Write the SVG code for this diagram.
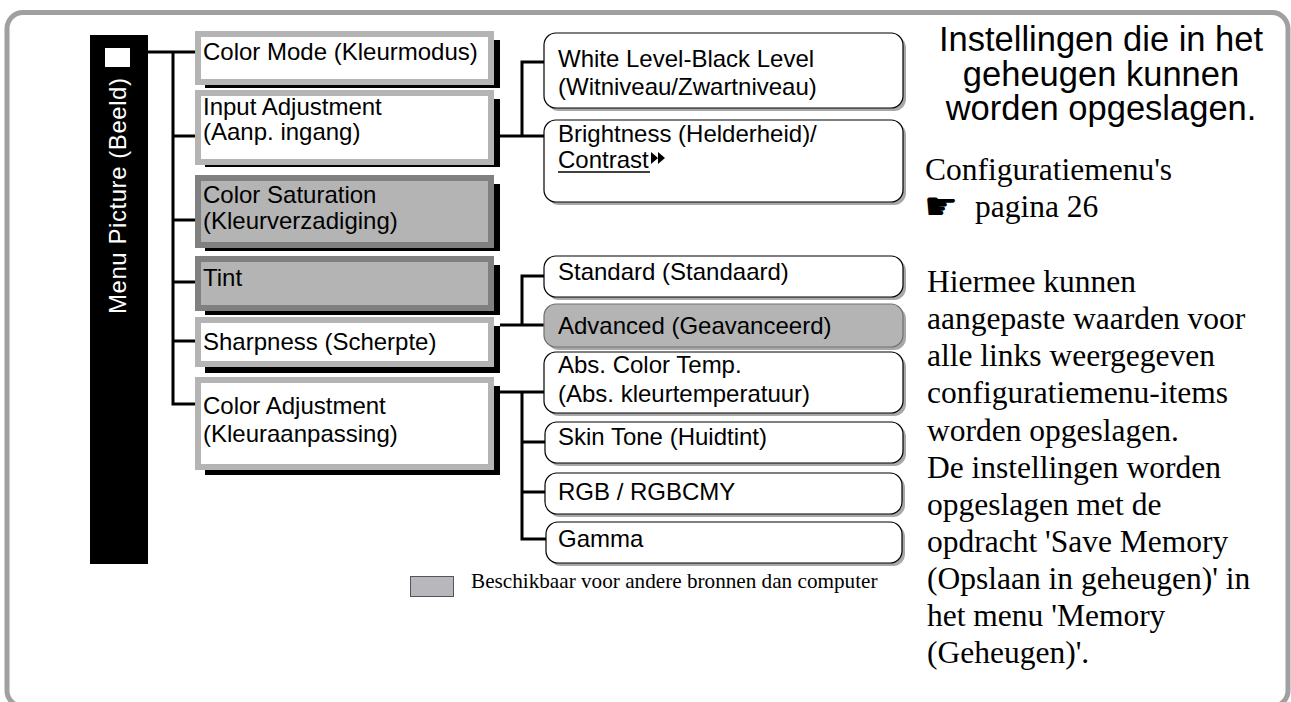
<svg xmlns="http://www.w3.org/2000/svg" width="1291" height="702" viewBox="0 0 1291 702">
<style>
.frame{fill:none;stroke:#a0a0a0;stroke-width:5}
.sans{font-family:"Liberation Sans",Arial,sans-serif;font-size:24px;fill:#000}
.serif{font-family:"Liberation Serif","Times New Roman",serif;font-size:31.5px;fill:#000}
.head{font-family:"Liberation Sans",Arial,sans-serif;font-size:34.5px;fill:#000;text-anchor:middle}
.shadow{fill:#000}
.lbox{fill:#fff;stroke:#b4b4b4;stroke-width:6}
.dbox{fill:#b4b4b4;stroke:#808080;stroke-width:6}
.rshadow{fill:#a8a8a8}
.rbox{fill:#fff;stroke:#000;stroke-width:1.2}
.rgray{fill:#b4b4b4;stroke:#707070;stroke-width:1.2}
.conn{fill:none;stroke:#000;stroke-width:3}
</style>
<rect class="frame" x="7" y="12.5" width="1281" height="694" rx="16"/>

<g id="menu-bar">
<rect x="90" y="35" width="58" height="529" fill="#000"/>
<rect x="105" y="48" width="25" height="19" fill="#fff"/>
<text class="sans" transform="translate(126,196) rotate(-90)" text-anchor="middle" style="fill:#fff" textLength="236" lengthAdjust="spacing">Menu Picture (Beeld)</text>
</g>

<g id="connectors">
<path class="conn" d="M148,52 H195 M173,52 V404 H195 M173,136 H195 M173,220 H195 M173,282 H195 M173,341 H195"/>
<path class="conn" d="M500,136 H546 M522,136 V62 H546"/>
<path class="conn" d="M500,325 H546 M522,325 V276 H546"/>
<path class="conn" d="M500,392 H546 M522,392 V539 H546 M522,442 H546 M522,492 H546"/>
</g>

<g id="color-mode">
<rect class="shadow" x="205" y="40" width="295" height="48"/>
<rect class="lbox" x="198" y="34" width="293" height="48"/>
<text class="sans" x="203" y="60">Color Mode (Kleurmodus)</text>
</g>
<g id="input-adjustment">
<rect class="shadow" x="205" y="99" width="295" height="68"/>
<rect class="lbox" x="198" y="93" width="293" height="69"/>
<text class="sans" x="203" y="115">Input Adjustment</text>
<text class="sans" x="203" y="140">(Aanp. ingang)</text>
</g>
<g id="color-saturation">
<rect class="shadow" x="205" y="184" width="295" height="67"/>
<rect class="dbox" x="198" y="178" width="293" height="67"/>
<text class="sans" x="203" y="203">Color Saturation</text>
<text class="sans" x="203" y="229">(Kleurverzadiging)</text>
</g>
<g id="tint">
<rect class="shadow" x="205" y="265" width="295" height="50"/>
<rect class="dbox" x="198" y="259" width="293" height="49"/>
<text class="sans" x="203" y="286">Tint</text>
</g>
<g id="sharpness">
<rect class="shadow" x="205" y="326" width="295" height="47"/>
<rect class="lbox" x="198" y="320" width="293" height="44"/>
<text class="sans" x="203" y="350">Sharpness (Scherpte)</text>
</g>
<g id="color-adjustment">
<rect class="shadow" x="205" y="386" width="295" height="89"/>
<rect class="lbox" x="198" y="380" width="293" height="87"/>
<text class="sans" x="203" y="414">Color Adjustment</text>
<text class="sans" x="203" y="442">(Kleuraanpassing)</text>
</g>

<g id="white-level">
<rect class="rshadow" x="547" y="36" width="359" height="75" rx="12"/>
<rect class="rbox" x="544" y="33" width="359" height="75" rx="12"/>
<text class="sans" x="558" y="67">White Level-Black Level</text>
<text class="sans" x="558" y="95">(Witniveau/Zwartniveau)</text>
</g>
<g id="brightness">
<rect class="rshadow" x="547" y="123" width="359" height="82" rx="12"/>
<rect class="rbox" x="544" y="120" width="359" height="82" rx="12"/>
<text class="sans" x="558" y="142">Brightness (Helderheid)/</text>
<text class="sans" x="558" y="168">Contrast</text>
<line x1="558" y1="172" x2="650" y2="172" stroke="#000" stroke-width="1.5"/>
<polygon points="651,152 658,158 651,164" fill="#000"/>
<polygon points="658,152 665,158 658,164" fill="#000"/>
</g>
<g id="standard">
<rect class="rshadow" x="547" y="259" width="359" height="41" rx="12"/>
<rect class="rbox" x="544" y="256" width="359" height="41" rx="12"/>
<text class="sans" x="558" y="280">Standard (Standaard)</text>
</g>
<g id="advanced">
<rect class="rshadow" x="547" y="307" width="359" height="43" rx="12"/>
<rect class="rgray" x="544" y="304" width="359" height="43" rx="12"/>
<text class="sans" x="558" y="334">Advanced (Geavanceerd)</text>
</g>
<g id="abs-color-temp">
<rect class="rshadow" x="547" y="355" width="359" height="61" rx="12"/>
<rect class="rbox" x="544" y="352" width="359" height="61" rx="12"/>
<text class="sans" x="558" y="373">Abs. Color Temp.</text>
<text class="sans" x="558" y="402">(Abs. kleurtemperatuur)</text>
</g>
<g id="skin-tone">
<rect class="rshadow" x="548" y="425" width="358" height="41" rx="12"/>
<rect class="rbox" x="545" y="422" width="358" height="41" rx="12"/>
<text class="sans" x="558" y="445">Skin Tone (Huidtint)</text>
</g>
<g id="rgb">
<rect class="rshadow" x="548" y="476" width="357" height="41" rx="12"/>
<rect class="rbox" x="545" y="473" width="357" height="41" rx="12"/>
<text class="sans" x="558" y="500">RGB / RGBCMY</text>
</g>
<g id="gamma">
<rect class="rshadow" x="549" y="525" width="356" height="41" rx="12"/>
<rect class="rbox" x="546" y="522" width="356" height="41" rx="12"/>
<text class="sans" x="558" y="547">Gamma</text>
</g>

<g id="legend">
<rect x="410.5" y="576.5" width="43" height="20" fill="#b8b8bc" stroke="#555" stroke-width="1"/>
<text x="471" y="588" font-family="'Liberation Serif','Times New Roman',serif" font-size="21.2">Beschikbaar voor andere bronnen dan computer</text>
</g>

<g id="notes">
<text class="head" x="1101" y="51">Instellingen die in het</text>
<text class="head" x="1101" y="85.5">geheugen kunnen</text>
<text class="head" x="1101" y="120">worden opgeslagen.</text>
<text class="serif" x="925" y="180">Configuratiemenu's</text>
<text x="924" y="219" font-family="'DejaVu Sans',sans-serif" font-size="38">☛</text>
<text class="serif" x="975" y="217">pagina 26</text>
<text class="serif" x="927" y="292">Hiermee kunnen</text>
<text class="serif" x="927" y="329">aangepaste waarden voor</text>
<text class="serif" x="927" y="366">alle links weergegeven</text>
<text class="serif" x="927" y="403">configuratiemenu-items</text>
<text class="serif" x="927" y="441">worden opgeslagen.</text>
<text class="serif" x="927" y="478">De instellingen worden</text>
<text class="serif" x="927" y="515">opgeslagen met de</text>
<text class="serif" x="927" y="552">opdracht 'Save Memory</text>
<text class="serif" x="927" y="589">(Opslaan in geheugen)' in</text>
<text class="serif" x="927" y="626">het menu 'Memory</text>
<text class="serif" x="927" y="663">(Geheugen)'.</text>
</g>
</svg>
